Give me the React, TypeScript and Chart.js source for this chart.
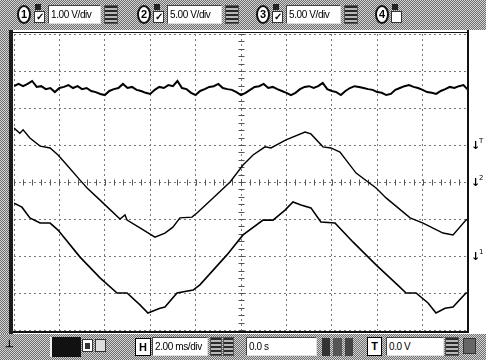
import React, { useEffect, useRef } from "react";
import { Chart, registerables } from "chart.js";

Chart.register(...registerables);

// Time axis: 2.00 ms/div, 10 divisions ; vertical: 8 divisions
const X_MIN = -10;
const X_MAX = 10;
const Y_MIN = -4;
const Y_MAX = 4;

// Channel 1 (1.00 V/div) sampled every 0.2 ms, values in divisions
const ch1Start = -10;
const ch1Step = 0.2;
const ch1Values = [
  2.59, 2.65, 2.59, 2.65, 2.73, 2.57, 2.59, 2.51, 2.54, 2.43,
  2.54, 2.57, 2.62, 2.54, 2.59, 2.51, 2.54, 2.46, 2.43, 2.38,
  2.35, 2.46, 2.51, 2.54, 2.65, 2.54, 2.57, 2.49, 2.46, 2.41,
  2.38, 2.49, 2.57, 2.54, 2.62, 2.59, 2.73, 2.54, 2.51, 2.41,
  2.35, 2.46, 2.51, 2.57, 2.59, 2.65, 2.54, 2.51, 2.49, 2.43,
  2.35, 2.41, 2.49, 2.57, 2.59, 2.65, 2.54, 2.57, 2.51, 2.46,
  2.41, 2.35, 2.41, 2.51, 2.57, 2.59, 2.54, 2.59, 2.68, 2.51,
  2.46, 2.43, 2.35, 2.46, 2.54, 2.59, 2.57, 2.54, 2.51, 2.49,
  2.43, 2.41, 2.35, 2.38, 2.49, 2.54, 2.59, 2.62, 2.57, 2.54,
  2.49, 2.43, 2.41, 2.38, 2.46, 2.51, 2.57, 2.54, 2.59, 2.62,
  2.49,
];

// Channel 2 (5.00 V/div)
const ch2Times = [
  -10.0, -9.74, -9.6, -9.3, -8.85, -8.41, -8.06, -7.67, -7.09, -6.78,
  -6.21, -5.33, -5.11, -5.02, -4.45, -3.79, -3.35, -3.0, -2.69, -2.16,
  -1.94, -1.23, -0.48, 0.09, 0.53, 1.06, 1.32, 1.98, 2.82, 3.08,
  3.61, 3.96, 4.36, 5.07, 5.95, 6.39, 7.45, 8.02, 8.9, 9.34,
  9.91, 10.0,
];
const ch2Values = [
  1.46, 1.32, 1.41, 1.19, 0.97, 0.92, 0.73, 0.46, 0.05, -0.16,
  -0.49, -1.0, -0.89, -1.03, -1.24, -1.49, -1.38, -1.22, -0.97, -0.95,
  -0.84, -0.43, 0.0, 0.46, 0.73, 0.95, 0.92, 1.14, 1.35, 1.3,
  0.95, 0.92, 0.81, 0.24, -0.16, -0.43, -0.97, -1.11, -1.38, -1.43,
  -1.03, -1.0,
];

// Channel 3 (5.00 V/div)
const ch3Times = [
  -10.0, -9.65, -9.3, -8.85, -8.41, -8.06, -7.09, -6.21, -5.46, -5.02,
  -4.45, -4.1, -3.57, -3.35, -2.82, -2.11, -1.81, -0.62, 0.09, 0.97,
  1.41, 1.94, 2.29, 2.64, 3.08, 3.52, 4.14, 4.93, 5.95, 7.0,
  7.27, 7.71, 8.24, 8.59, 8.99, 9.34, 9.91, 10.0,
];
const ch3Values = [
  -0.57, -0.68, -0.97, -1.11, -1.11, -1.3, -2.03, -2.59, -3.0, -3.0,
  -3.32, -3.54, -3.41, -3.38, -3.0, -2.92, -2.78, -1.97, -1.43, -1.03,
  -1.03, -0.76, -0.54, -0.62, -0.7, -1.08, -1.11, -1.62, -2.24, -2.84,
  -3.0, -3.0, -3.27, -3.54, -3.41, -3.38, -3.0, -3.0,
];

const channelScales = ["1.00 V/div", "5.00 V/div", "5.00 V/div"];
const timeScale = "2.00 ms/div";
const timeOffset = "0.0 s";
const triggerLevel = "0.0 V";
const markerLevels = [1, 0, -2];
const markerTags = ["T", "2", "1"];

const dither: React.CSSProperties = {
  background:
    "repeating-conic-gradient(#6e6e6e 0% 25%, #d4d4d4 0% 50%) 0 0 / 2px 2px",
};

const abs = (l: number, t: number, w: number, h: number): React.CSSProperties => ({
  position: "absolute",
  left: l,
  top: t,
  width: w,
  height: h,
  boxSizing: "border-box",
});

function Circle({ x, n }: { x: number; n: string }) {
  return (
    <div
      style={{
        ...abs(x, 5, 14, 19),
        borderRadius: "50%",
        background: "#fff",
        border: "2px solid #111",
        fontWeight: "bold",
        fontSize: 11,
        lineHeight: "15px",
        textAlign: "center",
        color: "#000",
      }}
    >
      {n}
    </div>
  );
}

function Check({ x, checked }: { x: number; checked: boolean }) {
  return (
    <>
      <div style={{ ...abs(x + 1, 4, 6, 6), background: "#222" }} />
      <div
        style={{
          ...abs(x, 11, 11, 12),
          background: "#fff",
          border: "1px solid #333",
          fontSize: 10,
          lineHeight: "10px",
          textAlign: "center",
          fontWeight: "bold",
        }}
      >
        {checked ? "✓" : ""}
      </div>
    </>
  );
}

function Box({ x, y, w, text }: { x: number; y: number; w: number; text: string }) {
  return (
    <div
      style={{
        ...abs(x, y, w, 19),
        background: "#fff",
        borderStyle: "solid",
        borderWidth: 1,
        borderColor: "#444 #ddd #ddd #444",
        fontSize: 10,
        lineHeight: "17px",
        paddingLeft: 2,
        letterSpacing: -0.4,
        color: "#000",
        whiteSpace: "nowrap",
        overflow: "hidden",
      }}
    >
      {text}
    </div>
  );
}

function Spin({ x, y, w = 14 }: { x: number; y: number; w?: number }) {
  return (
    <div
      style={{
        ...abs(x, y, w, 19),
        background: "repeating-linear-gradient(#2a2a2a 0 2px, #b8b8b8 2px 4px)",
        border: "1px solid #555",
      }}
    />
  );
}

function ScopeChart() {
  const ref = useRef<HTMLCanvasElement | null>(null);
  useEffect(() => {
    if (!ref.current) return;
    const ch1 = ch1Values.map((v, i) => ({ x: ch1Start + i * ch1Step, y: v }));
    const ch2 = ch2Times.map((t, i) => ({ x: t, y: ch2Values[i] }));
    const ch3 = ch3Times.map((t, i) => ({ x: t, y: ch3Values[i] }));

    const decor = {
      id: "scopeDecor",
      beforeDatasetsDraw(chart: any) {
        const { ctx, scales } = chart;
        const xs = scales.x;
        const ys = scales.y;
        const cx = Math.round(xs.getPixelForValue(0)) + 0.5;
        const cy = Math.round(ys.getPixelForValue(0)) + 0.5;
        ctx.save();
        ctx.strokeStyle = "#555";
        ctx.lineWidth = 1;
        const dx = (X_MAX - X_MIN) / 50;
        for (let v = X_MIN; v <= X_MAX + 1e-9; v += dx) {
          const px = Math.round(xs.getPixelForValue(v)) + 0.5;
          ctx.beginPath();
          ctx.moveTo(px, cy - 3);
          ctx.lineTo(px, cy + 3);
          ctx.stroke();
        }
        const dy = (Y_MAX - Y_MIN) / 40;
        for (let v = Y_MIN; v <= Y_MAX + 1e-9; v += dy) {
          const py = Math.round(ys.getPixelForValue(v)) + 0.5;
          ctx.beginPath();
          ctx.moveTo(cx - 3, py);
          ctx.lineTo(cx + 3, py);
          ctx.stroke();
        }
        ctx.restore();
      },
      afterDraw(chart: any) {
        const { ctx, chartArea: a, scales } = chart;
        const ys = scales.y;
        ctx.save();
        ctx.fillStyle = "#111";
        ctx.fillRect(a.left - 1, a.top - 2, a.right - a.left + 2, 1);
        ctx.fillRect(a.left - 1, a.bottom + 1, a.right - a.left + 2, 2);
        ctx.fillRect(a.right - 1, a.top - 4, 2, a.bottom - a.top + 7);
        ctx.fillStyle = "#000";
        markerLevels.forEach((lv, i) => {
          const py = ys.getPixelForValue(lv);
          ctx.font = "bold 11px 'DejaVu Sans'";
          ctx.textBaseline = "middle";
          ctx.fillText("↓", a.right + 3, py + 1);
          ctx.font = "7px 'DejaVu Sans'";
          ctx.fillText(markerTags[i], a.right + 11, py - 4);
        });
        ctx.restore();
      },
    };

    const chart = new Chart(ref.current, {
      type: "line",
      data: {
        datasets: [
          { data: ch1, borderColor: "#000", borderWidth: 2, pointRadius: 0, tension: 0 },
          { data: ch2, borderColor: "#000", borderWidth: 1.4, pointRadius: 0, tension: 0 },
          { data: ch3, borderColor: "#000", borderWidth: 1.6, pointRadius: 0, tension: 0 },
        ],
      },
      options: {
        responsive: false,
        animation: false,
        events: [],
        layout: { padding: { left: 14, top: 34, right: 18, bottom: 30 } },
        plugins: { legend: { display: false }, tooltip: { enabled: false } },
        scales: {
          x: {
            type: "linear",
            min: X_MIN,
            max: X_MAX,
            ticks: { display: false, stepSize: 2 },
            grid: { color: "#777", lineWidth: 1, drawTicks: false },
            border: { display: false, dash: [2, 3] },
          },
          y: {
            type: "linear",
            min: Y_MIN,
            max: Y_MAX,
            ticks: { display: false, stepSize: 1 },
            grid: { color: "#777", lineWidth: 1, drawTicks: false },
            border: { display: false, dash: [2, 3] },
          },
        },
      },
      plugins: [decor],
    });
    return () => chart.destroy();
  }, []);
  return (
    <canvas
      ref={ref}
      width={486}
      height={360}
      style={{ position: "absolute", left: 0, top: 0, width: 486, height: 360 }}
    />
  );
}

export default function App() {
  return (
    <div
      style={{
        position: "fixed",
        left: 0,
        top: 0,
        width: 486,
        height: 360,
        overflow: "hidden",
        background: "#fff",
        fontFamily: "'Liberation Sans', Arial, sans-serif",
      }}
    >
      <ScopeChart />
      <div style={{ ...abs(0, 29, 9, 305), ...dither }} />
      <div style={{ ...abs(9, 29, 4, 305), background: "#1c1c1c" }} />
      <div style={{ ...abs(0, 0, 486, 30), ...dither }}>
        <Circle x={17} n="1" />
        <Check x={34} checked />
        <Box x={48} y={5} w={53} text={channelScales[0]} />
        <Spin x={104} y={5} />
        <Circle x={137} n="2" />
        <Check x={153} checked />
        <Box x={167} y={5} w={55} text={channelScales[1]} />
        <Spin x={225} y={5} />
        <Circle x={256} n="3" />
        <Check x={272} checked />
        <Box x={286} y={5} w={55} text={channelScales[2]} />
        <Spin x={344} y={5} />
        <Circle x={375} n="4" />
        <Check x={391} checked={false} />
      </div>
      <div style={{ ...abs(0, 334, 486, 26), ...dither }}>
        <div style={{ ...abs(5, 4, 9, 12), fontSize: 10, lineHeight: "12px", fontWeight: "bold" }}>⊥</div>
        <div style={{ ...abs(50, 3, 31, 20), background: "#111", borderLeft: "2px solid #eee" }} />
        <div style={{ ...abs(82, 5, 11, 13), background: "#fff", border: "1px solid #333" }}>
          <div style={{ ...abs(2, 3, 5, 6), background: "#333" }} />
        </div>
        <div style={{ ...abs(95, 5, 11, 13), background: "#ddd", border: "1px solid #333" }} />
        <div
          style={{
            ...abs(135, 4, 16, 18),
            background: "#fff",
            border: "1px solid #000",
            fontWeight: "bold",
            fontSize: 11,
            lineHeight: "16px",
            textAlign: "center",
          }}
        >
          H
        </div>
        <Box x={152} y={3} w={56} text={timeScale} />
        <Spin x={210} y={3} w={12} />
        <Spin x={223} y={3} w={11} />
        <Box x={246} y={3} w={71} text={timeOffset} />
        <div style={{ ...abs(322, 4, 8, 18), background: "#333" }} />
        <div style={{ ...abs(333, 4, 9, 18), background: "#555" }} />
        <div style={{ ...abs(345, 4, 8, 18), background: "#444" }} />
        <div
          style={{
            ...abs(367, 3, 15, 19),
            background: "#fff",
            border: "1px solid #000",
            fontWeight: "bold",
            fontSize: 11,
            lineHeight: "17px",
            textAlign: "center",
          }}
        >
          T
        </div>
        <Box x={386} y={3} w={58} text={triggerLevel} />
        <Spin x={445} y={3} />
        <div style={{ ...abs(463, 4, 13, 16), background: "#666", border: "1px solid #333" }} />
      </div>
    </div>
  );
}
